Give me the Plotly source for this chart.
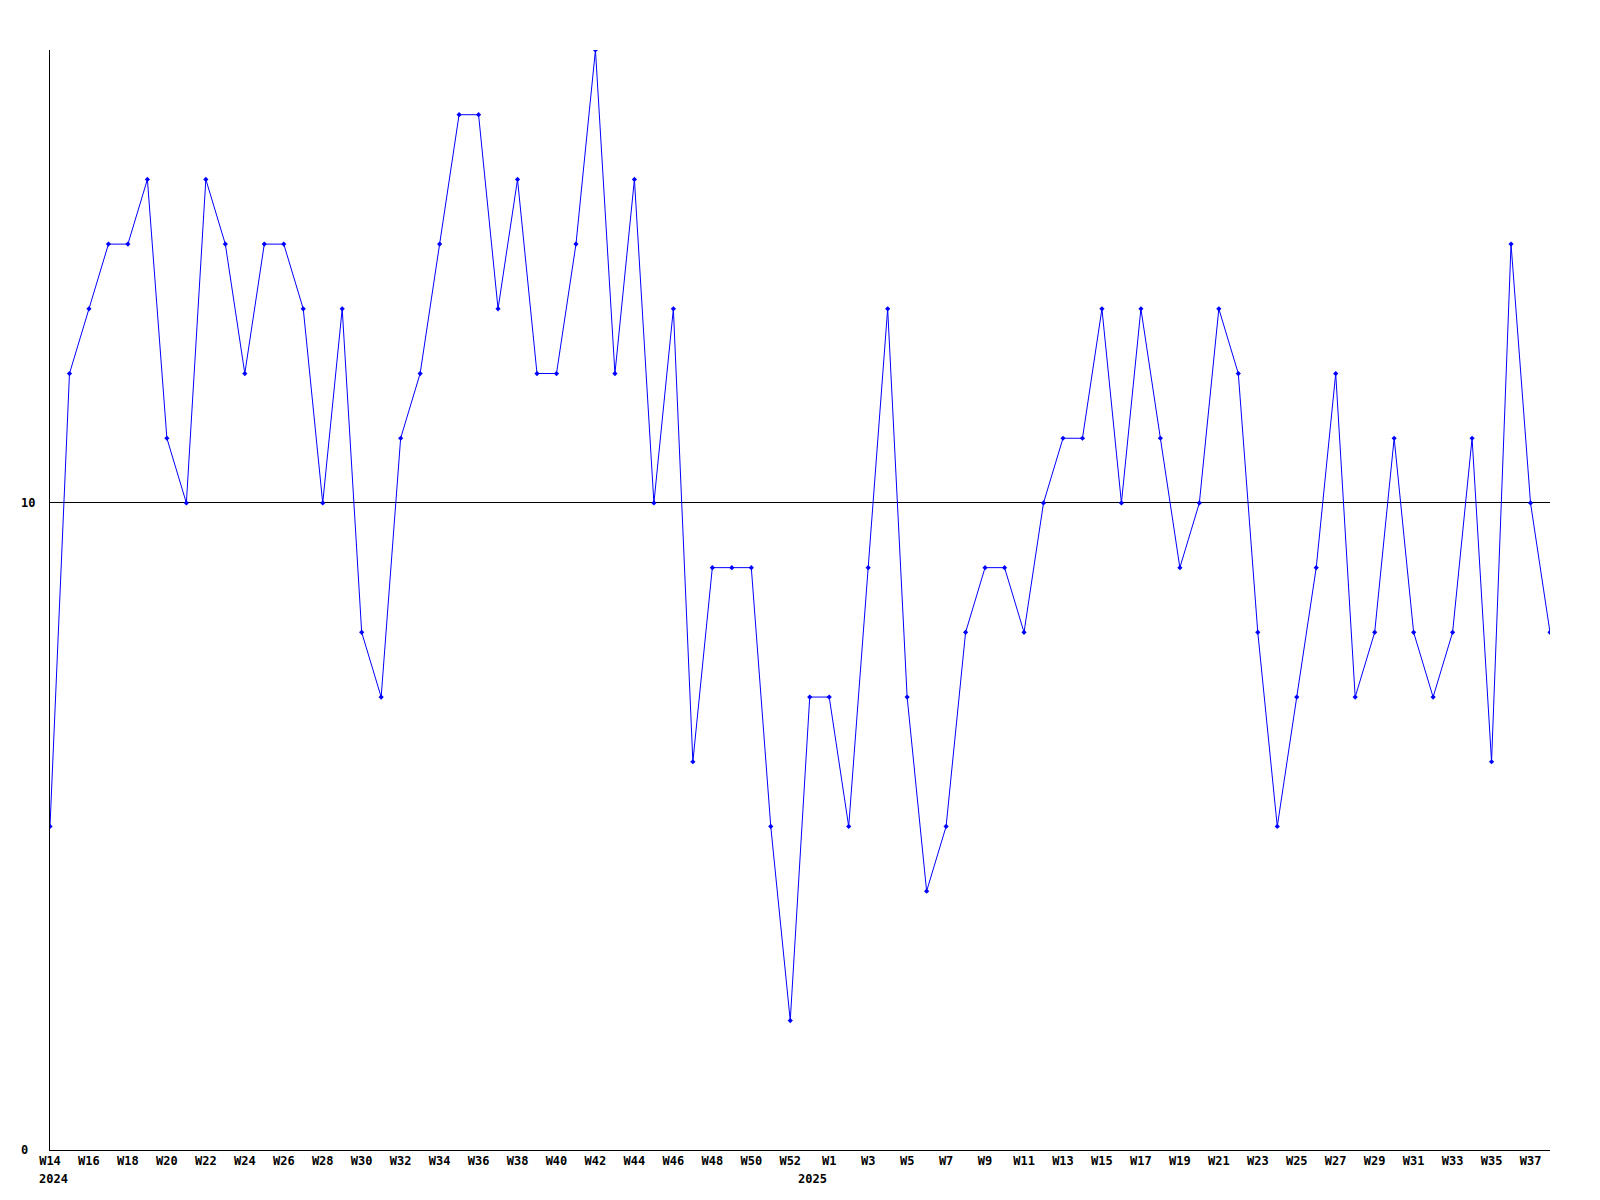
import plotly.graph_objects as go

weeks = [f"W{w}" for w in range(14, 54)] + [f"W{w}" for w in range(1, 39)]
values = [5, 12, 13, 14, 14, 15, 11, 10, 15, 14, 12, 14, 14, 13, 10, 13, 8, 7, 11, 12,
          14, 16, 16, 13, 15, 12, 12, 14, 17, 12, 15, 10, 13, 6, 9, 9, 9, 5, 2, 7,
          7, 5, 9, 13, 7, 4, 5, 8, 9, 9, 8, 10, 11, 11, 13, 10, 13, 11, 9, 10,
          13, 12, 8, 5, 7, 9, 12, 7, 8, 11, 8, 7, 8, 11, 6, 14, 10, 8]
years = ["2024", "2025"]
year_pos = [0.18, 39.15]
y_ticks = [0, 10]

idx = list(range(len(weeks)))
font = dict(family="DejaVu Sans Mono", size=12, color="black", weight="bold")

fig = go.Figure()
fig.add_trace(go.Scatter(
    x=idx, y=values, mode="lines+markers",
    line=dict(color="#0000ff", width=1),
    marker=dict(color="#0000ff", size=4, symbol="diamond"),
    hoverinfo="skip",
))

fig.update_layout(
    width=1592, height=1192,
    margin=dict(l=42, r=50, t=42, b=50),
    paper_bgcolor="white", plot_bgcolor="white",
    showlegend=False,
    font=font,
)
fig.update_xaxes(
    range=[0, len(weeks) - 1], tickmode="array",
    tickvals=idx[::2], ticktext=weeks[::2],
    showline=True, linecolor="black", linewidth=1,
    showgrid=False, zeroline=False, ticks="", tickfont=font,
)
fig.update_yaxes(
    range=[0, 17], tickmode="array", tickvals=y_ticks,
    showticklabels=False,
    showline=True, linecolor="black", linewidth=1,
    showgrid=True, gridcolor="black", gridwidth=1, zeroline=False, ticks="",
)
for yv in y_ticks:
    fig.add_annotation(x=(19 - 50) / 1500, xref="paper", y=yv, yref="y",
                       text=str(yv), showarrow=False, xanchor="left",
                       yanchor="middle", font=font)
for yr, xp in zip(years, year_pos):
    fig.add_annotation(x=xp, xref="x", y=0, yref="paper", yshift=-20,
                       text=yr, showarrow=False, xanchor="center",
                       yanchor="top", font=font)

fig.write_html("out.html")
